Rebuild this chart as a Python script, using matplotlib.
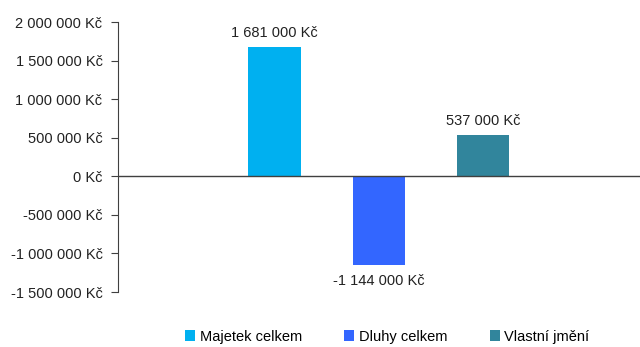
import matplotlib.pyplot as plt
import numpy as np

plt.rcParams['font.family'] = ['Liberation Sans', 'DejaVu Sans']

kategorie = ["Majetek celkem", "Dluhy celkem", "Vlastní jmění"]
hodnoty = [1681000, -1144000, 537000]
barvy = ["#00B0F0", "#3366FF", "#31859C"]
y_ticks = [-1500000, -1000000, -500000, 0, 500000, 1000000, 1500000, 2000000]


def kc(v):
    s = f"{abs(v):,}".replace(",", " ")
    return ("-" if v < 0 else "") + s + " Kč"


fig = plt.figure(figsize=(6.4, 3.47), dpi=100)
ax = fig.add_axes([0.184, 0.1585, 0.816, 0.778])

x = np.arange(len(hodnoty)) - 1
for xi, h, b, k in zip(x, hodnoty, barvy, kategorie):
    ax.bar(xi, h, width=0.5, color=b, label=k, zorder=2)
    if h >= 0:
        ax.annotate(kc(h), (xi, h), xytext=(0, 5), textcoords="offset points",
                    ha="center", va="bottom", fontsize=10.5, color="#222222")
    else:
        ax.annotate(kc(h), (xi, h), xytext=(0, -7), textcoords="offset points",
                    ha="center", va="top", fontsize=10.5, color="#222222")

ax.axhline(0, color="#404040", linewidth=1, zorder=3)
ax.set_xlim(-2.5, 2.5)
ax.set_ylim(-1500000, 2000000)
ax.set_yticks(y_ticks)
ax.set_yticklabels([kc(v) for v in y_ticks], fontsize=10.5, color="#222222")
ax.set_xticks([])
for s in ["top", "right", "bottom"]:
    ax.spines[s].set_visible(False)
ax.spines["left"].set_color("#404040")
ax.tick_params(axis="y", length=5, color="#404040", pad=6)

fig.legend(loc="lower center", bbox_to_anchor=(0.605, -0.028), ncol=3, frameon=False,
           fontsize=10.5, handlelength=0.7, handleheight=0.7, handletextpad=0.3,
           columnspacing=2.9)

fig.savefig("out.png", dpi=100)
